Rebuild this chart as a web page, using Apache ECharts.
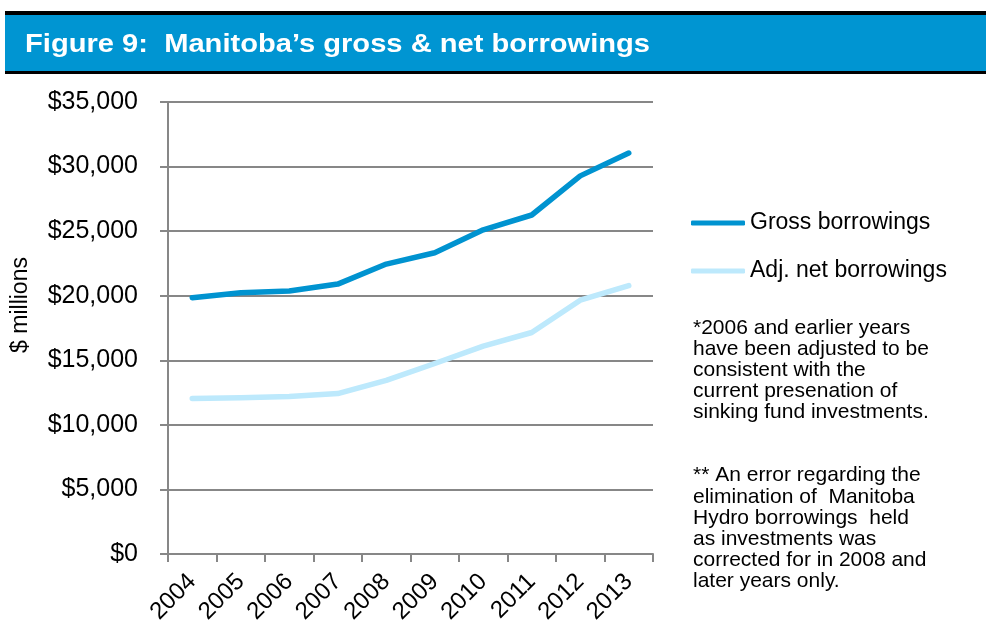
<!DOCTYPE html>
<html>
<head>
<meta charset="utf-8">
<script src="https://cdn.jsdelivr.net/npm/echarts@6/dist/echarts.min.js"></script>
<style>
  html, body { margin: 0; padding: 0; background: #ffffff; }
  #chart { width: 986px; height: 630px; }
</style>
</head>
<body>
<div id="chart"></div>
<script>
// Years on the category axis
const years = ['2004', '2005', '2006', '2007', '2008', '2009', '2010', '2011', '2012', '2013'];

// Borrowings, $ millions
const grossBorrowings = [19850, 20230, 20360, 20900, 22450, 23330, 25100, 26250, 29280, 31050];
const adjNetBorrowings = [12050, 12100, 12200, 12420, 13450, 14750, 16100, 17150, 19650, 20780];

// Value axis ticks
const yTicks = [0, 5000, 10000, 15000, 20000, 25000, 30000, 35000];

const seriesNames = ['Gross borrowings', 'Adj. net borrowings'];

const noteOne = [
  '*2006 and earlier years',
  'have been adjusted to be',
  'consistent with the',
  'current presenation of',
  'sinking fund investments.'
];
const noteTwo = [
  '** An error regarding the',
  'elimination of  Manitoba',
  'Hydro borrowings  held',
  'as investments was',
  'corrected for in 2008 and',
  'later years only.'
];

const FONT = '"Liberation Sans", Arial, sans-serif';
const GROSS_COLOR = '#0093d0';
const NET_COLOR = '#bde9fc';
const AXIS_GREY = '#878787';

const chart = echarts.init(document.getElementById('chart'), null, { renderer: 'canvas' });

const fmtDollar = v => '$' + v.toLocaleString('en-US');

chart.setOption({
  animation: false,
  backgroundColor: '#ffffff',
  textStyle: { fontFamily: FONT },
  grid: { left: 168, right: 333, top: 102, bottom: 76, containLabel: false, outerBoundsMode: 'none' },
  legend: {
    orient: 'vertical',
    left: 686,
    top: 205,
    itemGap: 22,
    itemWidth: 54,
    itemHeight: 5,
    icon: 'roundRect',
    data: seriesNames,
    textStyle: { fontFamily: FONT, fontSize: 23, lineHeight: 26, color: '#000', padding: [0, 0, 0, 0] }
  },
  xAxis: {
    type: 'category',
    data: years,
    boundaryGap: true,
    axisLine: { lineStyle: { color: AXIS_GREY, width: 2 } },
    axisTick: { show: true, length: 8, alignWithLabel: false, lineStyle: { color: AXIS_GREY, width: 2 } },
    axisLabel: { rotate: 45, margin: 24, fontFamily: FONT, fontSize: 24, color: '#000', interval: 0 }
  },
  yAxis: {
    type: 'value',
    min: yTicks[0],
    max: yTicks[yTicks.length - 1],
    interval: yTicks[1] - yTicks[0],
    name: '$ millions',
    nameLocation: 'middle',
    nameRotate: 90,
    nameGap: 136,
    nameTextStyle: { fontFamily: FONT, fontSize: 23, color: '#000', padding: [0, 0, 0, 46] },
    axisLine: { show: true, lineStyle: { color: AXIS_GREY, width: 2 } },
    axisTick: { show: true, length: 8, lineStyle: { color: AXIS_GREY, width: 2 } },
    splitLine: { show: true, lineStyle: { color: AXIS_GREY, width: 2 } },
    axisLabel: { margin: 30, fontFamily: FONT, fontSize: 25, color: '#000', formatter: fmtDollar }
  },
  series: [
    {
      name: seriesNames[0],
      type: 'line',
      data: grossBorrowings,
      showSymbol: false,
      symbol: 'none',
      color: GROSS_COLOR,
      lineStyle: { width: 5.5, color: GROSS_COLOR, cap: 'round', join: 'round' },
      z: 3
    },
    {
      name: seriesNames[1],
      type: 'line',
      data: adjNetBorrowings,
      showSymbol: false,
      symbol: 'none',
      color: NET_COLOR,
      lineStyle: { width: 5.5, color: NET_COLOR, cap: 'round', join: 'round' },
      z: 2
    }
  ],
  graphic: [
    // header band with rules above and below
    { type: 'rect', shape: { x: 5, y: 11, width: 981, height: 4 }, style: { fill: '#000' } },
    { type: 'rect', shape: { x: 5, y: 15, width: 981, height: 56 }, style: { fill: '#0095d2' } },
    { type: 'rect', shape: { x: 5, y: 71, width: 981, height: 3 }, style: { fill: '#000' } },
    {
      type: 'text', x: 25, y: 45, scaleX: 1.12,
      style: {
        text: 'Figure 9:  Manitoba\u2019s gross & net borrowings', fill: '#fff',
        font: 'bold 26px ' + FONT, verticalAlign: 'middle'
      }
    },
    {
      type: 'text', left: 693, top: 318,
      style: { text: noteOne.join('\n'), fill: '#000', font: '21px ' + FONT, lineHeight: 21 }
    },
    {
      type: 'text', left: 693, top: 465,
      style: { text: noteTwo.join('\n'), fill: '#000', font: '21px ' + FONT, lineHeight: 21.2 }
    }
  ]
});
</script>
</body>
</html>
